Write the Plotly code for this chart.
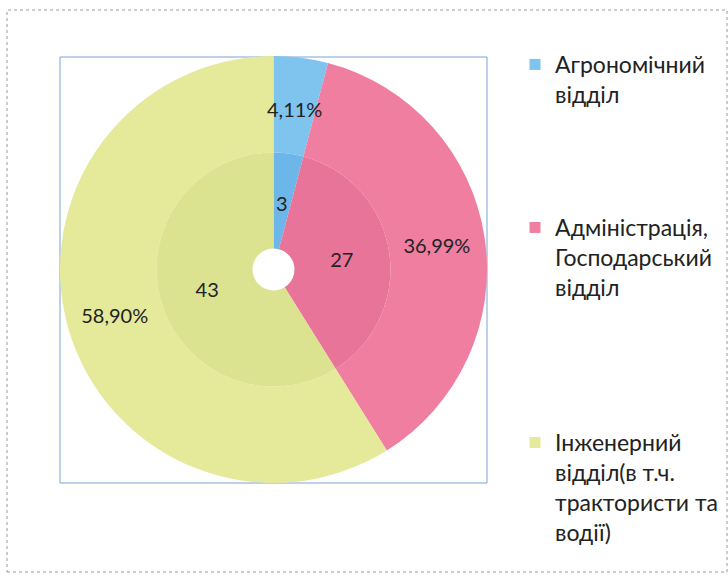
import math
import plotly.graph_objects as go

categories = ["Агрономічний<br>відділ",
              "Адміністрація,<br>Господарський<br>відділ",
              "Інженерний<br>відділ(в т.ч.<br>трактористи та<br>водії)"]
counts = [3, 27, 43]

outer_colors = ["#7ec4ef", "#ef7ea1", "#e5ea9b"]
inner_colors = ["#6db6e9", "#e8749a", "#dbe290"]

W, H = 728, 576
FONT = "Lato, 'Noto Sans', sans-serif"
TXT = "#222222"


def px_x(x):
    return x / W


def px_y(y):
    return 1 - y / H


cx, cy = 273.5, 269.5
R_out, R_in, R_hole = 213.5, 117, 21

total = sum(counts)
# slices too narrow for plotly's inside text get an annotation at the slice centre
small = [c / total < 0.1 for c in counts]

fig = go.Figure()

fig.add_trace(go.Pie(
    labels=categories, values=counts, sort=False, direction="clockwise",
    rotation=0, hole=R_in / R_out,
    domain=dict(x=[px_x(cx - R_out), px_x(cx + R_out)],
                y=[px_y(cy + R_out), px_y(cy - R_out)]),
    marker=dict(colors=outer_colors, line=dict(width=0)),
    texttemplate=["" if s else "%{percent:.2%}" for s in small],
    textposition="inside",
    insidetextorientation="horizontal",
    textfont=dict(family=FONT, size=20, color=TXT),
    showlegend=False, hoverinfo="label+percent"))

fig.add_trace(go.Pie(
    labels=categories, values=counts, sort=False, direction="clockwise",
    rotation=0, hole=R_hole / R_in,
    domain=dict(x=[px_x(cx - R_in), px_x(cx + R_in)],
                y=[px_y(cy + R_in), px_y(cy - R_in)]),
    marker=dict(colors=inner_colors, line=dict(width=0)),
    texttemplate=["" if s else "%{value}" for s in small],
    textposition="inside",
    insidetextorientation="horizontal",
    textfont=dict(family=FONT, size=20, color=TXT),
    showlegend=False, hoverinfo="label+value"))

annotations = []
cum = 0
for c, s in zip(counts, small):
    theta = 2 * math.pi * (cum + c / 2) / total
    cum += c
    if not s:
        continue
    for r, txt in (((R_in + R_out) / 2 - 3, f"{100 * c / total:.2f}%".replace(".", ",")),
                   ((R_hole + R_in) / 2 - 2, f"{c}")):
        annotations.append(dict(
            x=px_x(cx + r * math.sin(theta)), y=px_y(cy - r * math.cos(theta)),
            xref="paper", yref="paper", text=txt, showarrow=False,
            xanchor="center", yanchor="middle",
            font=dict(family=FONT, size=20, color=TXT)))

# legend entries, each in its own legend box
legend_tops = [43, 206, 421]
legend_names = ["legend", "legend2", "legend3"]
for i, (lab, col) in enumerate(zip(categories, outer_colors)):
    fig.add_trace(go.Scatter(
        x=[None], y=[None], mode="markers", name=lab,
        legend=legend_names[i],
        marker=dict(symbol="square", size=11, color=col,
                    line=dict(width=0))))

legend_style = dict(x=px_x(515), xanchor="left", yanchor="top",
                    valign="top",
                    font=dict(family=FONT, size=23, color=TXT),
                    bgcolor="rgba(0,0,0,0)")

fig.update_layout(
    width=W, height=H,
    margin=dict(l=0, r=0, t=0, b=0),
    paper_bgcolor="white", plot_bgcolor="white",
    separators=", ",
    xaxis=dict(visible=False), yaxis=dict(visible=False),
    legend=dict(y=px_y(legend_tops[0]), **legend_style),
    legend2=dict(y=px_y(legend_tops[1]), **legend_style),
    legend3=dict(y=px_y(legend_tops[2]), **legend_style),
    annotations=annotations,
    shapes=[
        dict(type="rect", xref="paper", yref="paper",
             x0=px_x(60), x1=px_x(487), y0=px_y(483), y1=px_y(57),
             line=dict(color="#7aa3d4", width=1), layer="below"),
        dict(type="rect", xref="paper", yref="paper",
             x0=px_x(7), x1=px_x(727), y0=px_y(572), y1=px_y(10),
             line=dict(color="#9a9a9a", width=1, dash="dot"), layer="below"),
    ],
)

fig.write_html("out.html", config={"displayModeBar": False},
               post_script="document.body.style.margin='0';")
